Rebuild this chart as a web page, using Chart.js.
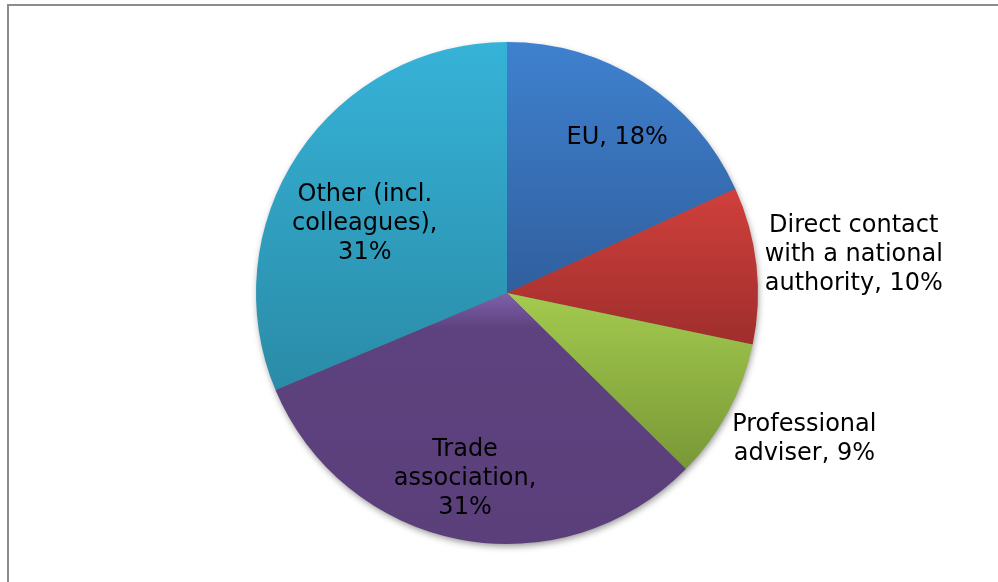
<!DOCTYPE html>
<html>
<head>
<meta charset="utf-8">
<script src="https://cdn.jsdelivr.net/npm/chart.js@4/dist/chart.umd.min.js"></script>
<style>
  html, body { margin: 0; padding: 0; background: #fff; }
  body { width: 998px; height: 582px; position: relative; overflow: hidden; }
  .frame {
    position: absolute; left: 7px; top: 4px; width: 1100px; height: 700px;
    border-left: 2px solid #8c8c8c; border-top: 2px solid #8c8c8c;
    box-sizing: border-box;
  }
  canvas { position: absolute; left: 0; top: 0; }
</style>
</head>
<body>
<div class="frame"></div>
<canvas id="c" width="998" height="582"></canvas>
<script>
// Where respondents get their information
const categories = [
  ["EU"],
  ["Direct contact", "with a national", "authority"],
  ["Professional", "adviser"],
  ["Trade", "association"],
  ["Other (incl.", "colleagues)"]
];
const shares = [18, 10, 9, 31, 31];

// Slice fills: light at the top of each slice, darker at its bottom
const sliceGradients = [
  [[0, "#3f81cf"], [1, "#305f9e"]],
  [[0, "#d0403c"], [1, "#9f2e2c"]],
  [[0, "#a4ca4f"], [1, "#789836"]],
  [[0, "#7f61aa"], [0.14, "#5e427f"], [1, "#5b3f7b"]],
  [[0, "#36b3d8"], [1, "#2a8ba7"]]
];

// Label placement: distance from the centre (fraction of radius) and a turn off the mid-angle (degrees)
const labelRadius = [0.757, 1.39, 1.32, 0.76, 0.63];
const labelTurn = [2.7, 0, -2, 1.8, -7.7];
const labelLineHeight = 29;

function arcBox(a) {
  const p = a.getProps(["x", "y", "startAngle", "endAngle", "outerRadius"], true);
  const xs = [p.x], ys = [p.y];
  const add = ang => { xs.push(p.x + Math.cos(ang) * p.outerRadius); ys.push(p.y + Math.sin(ang) * p.outerRadius); };
  add(p.startAngle); add(p.endAngle);
  for (let k = -4; k <= 8; k++) {
    const ang = k * Math.PI / 2;
    if (ang > p.startAngle && ang < p.endAngle) add(ang);
  }
  return { top: Math.min(...ys), bottom: Math.max(...ys) };
}

const fillPlugin = {
  id: "sliceFill",
  beforeDatasetsDraw(chart) {
    const ctx = chart.ctx;
    const arcs = chart.getDatasetMeta(0).data;
    arcs.forEach((a, i) => {
      const b = arcBox(a);
      const g = ctx.createLinearGradient(0, b.top, 0, b.bottom);
      sliceGradients[i].forEach(s => g.addColorStop(s[0], s[1]));
      a.options.backgroundColor = g;
    });
    // soft drop shadow under the whole pie
    const a0 = arcs[0];
    ctx.save();
    ctx.shadowColor = "rgba(0,0,0,0.45)";
    ctx.shadowBlur = 7;
    ctx.shadowOffsetX = 1;
    ctx.shadowOffsetY = 3;
    ctx.fillStyle = "#666";
    ctx.beginPath();
    ctx.arc(a0.x, a0.y, a0.outerRadius - 1, 0, Math.PI * 2);
    ctx.fill();
    ctx.restore();
  },
  afterDatasetsDraw(chart) {
    const ctx = chart.ctx;
    const arcs = chart.getDatasetMeta(0).data;
    ctx.save();
    ctx.font = "24px 'DejaVu Sans'";
    ctx.fillStyle = "#000";
    ctx.textAlign = "center";
    ctx.textBaseline = "middle";
    arcs.forEach((a, i) => {
      const p = a.getProps(["x", "y", "startAngle", "endAngle", "outerRadius"], true);
      const mid = (p.startAngle + p.endAngle) / 2 + labelTurn[i] * Math.PI / 180;
      const r = p.outerRadius * labelRadius[i];
      const cx = p.x + Math.cos(mid) * r;
      const cy = p.y + Math.sin(mid) * r;
      const lines = categories[i].slice();
      const pct = shares[i] + "%";
      const last = lines.length - 1;
      // value goes on the last line, or on its own line for the inner multi-line labels
      if (i === 3 || i === 4) { lines[last] += ","; lines.push(pct); }
      else lines[last] += ", " + pct;
      const y0 = cy - (lines.length - 1) * labelLineHeight / 2;
      lines.forEach((t, k) => ctx.fillText(t, cx, y0 + k * labelLineHeight));
    });
    ctx.restore();
  }
};

new Chart(document.getElementById("c"), {
  type: "pie",
  data: {
    labels: categories.map(c => c.join(" ")),
    datasets: [{
      data: shares,
      backgroundColor: sliceGradients.map(g => g[0][1]),
      borderWidth: 0
    }]
  },
  options: {
    responsive: false,
    animation: false,
    events: [],
    layout: { padding: { left: 256, right: 240, top: 42, bottom: 38 } },
    plugins: {
      legend: { display: false },
      tooltip: { enabled: false }
    }
  },
  plugins: [fillPlugin]
});
</script>
</body>
</html>
